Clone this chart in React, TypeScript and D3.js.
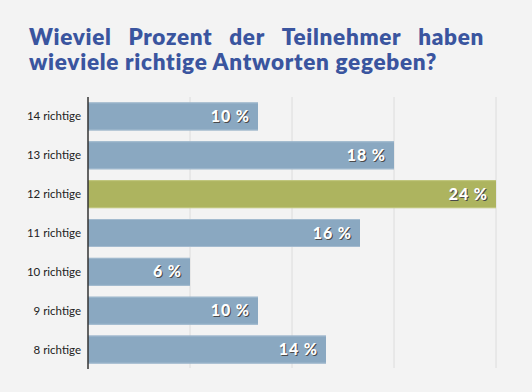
import React, { useLayoutEffect, useRef, useState } from "react";
import * as d3 from "d3";

const categories = ["14 richtige", "13 richtige", "12 richtige", "11 richtige", "10 richtige", "9 richtige", "8 richtige"];
const values = [10, 18, 24, 16, 6, 10, 14];
const highlight = [false, false, true, false, false, false, false];
const gridTicks = [6, 12, 18, 24];
const titleLine1 = ["Wieviel", "Prozent", "der", "Teilnehmer", "haben"];
const titleLine2 = "wieviele richtige Antworten gegeben?";

const W = 532, H = 392;
const left = 88, top = 97, bottom = 369;

export default function App() {
  const x = d3.scaleLinear().domain([0, 24]).range([left, left + 408]);
  const y = d3.scaleBand<string>().domain(categories).range([top, bottom]).paddingInner(0.28).paddingOuter(0.14);
  const refs = useRef<(SVGTextElement | null)[]>([]);
  const [xs, setXs] = useState<number[]>([29, 127, 228, 280, 421]);
  const titleFont = "Lato, 'Open Sans', sans-serif";
  const tStart = 29, tEnd = 484;

  useLayoutEffect(() => {
    const widths = refs.current.map((el) => (el ? el.getComputedTextLength() : 0));
    const total = widths.reduce((a, b) => a + b, 0);
    const gap = (tEnd - tStart - total) / (widths.length - 1);
    const out: number[] = [];
    let cur = tStart;
    widths.forEach((w) => { out.push(cur); cur += w + gap; });
    setXs(out);
  }, []);

  return (
    <svg width={W} height={H} style={{ position: "absolute", left: 0, top: 0, background: "#f3f3f3" }}>
      <rect x={0} y={0} width={W} height={H} fill="#f3f3f3" />
      <g fill="#3a559f" fontFamily={titleFont} fontWeight={800} fontSize={22.5} letterSpacing={0.7}>
        {titleLine1.map((w, i) => (
          <text key={w} ref={(el) => { refs.current[i] = el; }} x={xs[i]} y={45}>{w}</text>
        ))}
        <text x={tStart} y={70} textLength={408} lengthAdjust="spacing">{titleLine2}</text>
      </g>
      {gridTicks.map((t) => (
        <line key={t} x1={x(t)} x2={x(t)} y1={top} y2={bottom - 1} stroke="#dcdcdc" strokeWidth={1} />
      ))}
      {categories.map((c, i) => {
        const y0 = y(c)!;
        const bh = y.bandwidth();
        const x1 = x(values[i]);
        const fill = highlight[i] ? "#adb45f" : "#8aa8c1";
        const edge = highlight[i] ? "#c2c77f" : "#a3bbcf";
        return (
          <g key={c}>
            <rect x={left} y={y0} width={x1 - left} height={bh} fill={fill} />
            <line x1={left} x2={x1} y1={y0 + 0.5} y2={y0 + 0.5} stroke={edge} />
            <line x1={left} x2={x1} y1={y0 + bh - 0.5} y2={y0 + bh - 0.5} stroke={edge} />
            <text x={left - 7} y={y0 + bh / 2} dy="0.35em" textAnchor="end" fontFamily="Lato, sans-serif" fontSize={11.5} fill="#222">{c}</text>
            <text x={x1 - 8 + 1} y={y0 + bh / 2 + 1} dy="0.35em" textAnchor="end" fontFamily={titleFont} fontWeight={900} fontSize={16} letterSpacing={0.9} fill="#4a4a4a">{values[i]} %</text>
            <text x={x1 - 8} y={y0 + bh / 2} dy="0.35em" textAnchor="end" fontFamily={titleFont} fontWeight={900} fontSize={16} letterSpacing={0.9} fill="#ffffff">{values[i]} %</text>
          </g>
        );
      })}
      <line x1={left} x2={left} y1={top} y2={bottom} stroke="#333" strokeWidth={1.5} />
    </svg>
  );
}
